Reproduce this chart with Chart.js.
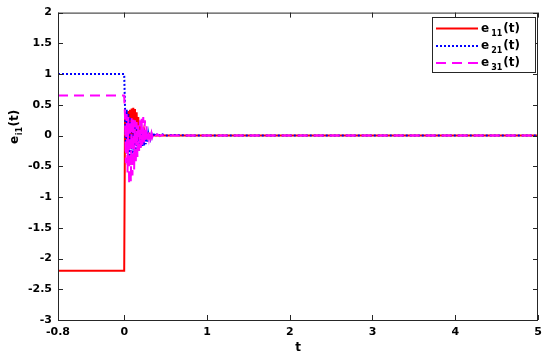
<!DOCTYPE html>
<html>
<head>
<meta charset="utf-8">
<script src="https://cdn.jsdelivr.net/npm/chart.js@4"></script>
<style>
  html, body { margin: 0; padding: 0; background: #fff; }
  #wrap { width: 550px; height: 358px; }
</style>
</head>
<body>
<div id="wrap"><canvas id="err-chart" width="550" height="358"></canvas></div>
<script>
// time samples (shared by all three error signals)
const tSamples = [
  -0.8, 0,
  0.01, 0.02, 0.03, 0.04, 0.05, 0.06, 0.07, 0.08, 0.09, 0.10,
  0.11, 0.12, 0.13, 0.14, 0.15, 0.16, 0.17, 0.18, 0.19, 0.20,
  0.21, 0.22, 0.23, 0.24, 0.25, 0.26, 0.27, 0.28, 0.29, 0.30,
  0.31, 0.32, 0.33, 0.34, 0.35,
  0.37, 0.40, 0.43, 0.46, 0.50, 0.60, 0.80, 1.0, 5
];

const e11 = [
  -2.2, -2.2,
  0.35, -0.15, 0.38, -0.2, 0.4, -0.22, 0.42, -0.18, 0.44, -0.15,
  0.45, -0.12, 0.43, -0.1, 0.38, -0.08, 0.3, -0.06, 0.18, -0.05,
  0.1, -0.04, 0.06, -0.03, 0.04, -0.02, 0.03, -0.02, 0.02, -0.01,
  0.01, -0.01, 0.01, 0, 0.01,
  0, 0.005, 0, 0, 0, 0, 0, 0, 0
];

const e21 = [
  1, 1,
  0.45, -0.15, 0.42, -0.3, 0.35, -0.35, 0.3, -0.32, 0.26, -0.3,
  0.22, -0.27, 0.18, -0.24, 0.14, -0.22, 0.12, -0.2, 0.1, -0.18,
  0.08, -0.17, 0.06, -0.16, 0.05, -0.14, 0.04, -0.1, 0.03, -0.06,
  0.03, -0.04, 0.03, -0.02, 0.04,
  -0.01, 0.03, 0, 0.02, 0, 0.01, 0, 0, 0
];

const e31 = [
  0.65, 0.65,
  0.3, -0.45, 0.35, -0.6, 0.3, -0.8, 0.25, -0.75, 0.3, -0.65,
  0.28, -0.55, 0.25, -0.45, 0.22, -0.35, 0.2, -0.25, 0.25, -0.2,
  0.28, -0.15, 0.3, -0.12, 0.25, -0.08, 0.15, -0.06, 0.08, -0.04,
  0.05, -0.03, 0.04, -0.02, 0.03,
  -0.02, 0.02, -0.01, 0.01, 0, 0, 0, 0, 0
];

const xTicks = [-0.8, 0, 1, 2, 3, 4, 5];
const yMin = -3, yMax = 2, yStep = 0.5;

const axisColor = "#262626";
const tickFont = { family: "DejaVu Sans", weight: "bold", size: 11 };

const toPoints = (ys) => tSamples.map((t, i) => ({ x: t, y: ys[i] }));

const seriesInfo = [
  { sub: "11", color: "rgb(255, 0, 0)", dash: [] },
  { sub: "21", color: "rgb(0, 0, 255)", dash: [2, 2] },
  { sub: "31", color: "rgb(255, 0, 255)", dash: [10, 6] },
];

// frame, inner ticks, axis titles with subscripts, legend box
const framePlugin = {
  id: "frame",
  afterDraw(chart) {
    const { ctx, chartArea: a, scales } = chart;
    ctx.save();
    ctx.strokeStyle = axisColor;
    ctx.lineWidth = 1;
    ctx.strokeRect(a.left + 0.5, a.top + 0.5, a.right - a.left - 1, a.bottom - a.top);

    const tl = 5;
    ctx.beginPath();
    scales.x.ticks.forEach((tk) => {
      const px = Math.round(scales.x.getPixelForValue(tk.value)) + 0.5;
      ctx.moveTo(px, a.bottom); ctx.lineTo(px, a.bottom - tl);
      ctx.moveTo(px, a.top); ctx.lineTo(px, a.top + tl);
    });
    scales.y.ticks.forEach((tk) => {
      const py = Math.round(scales.y.getPixelForValue(tk.value)) + 0.5;
      ctx.moveTo(a.left, py); ctx.lineTo(a.left + tl, py);
      ctx.moveTo(a.right, py); ctx.lineTo(a.right - tl, py);
    });
    ctx.stroke();

    const big = 'bold 12px "DejaVu Sans"';
    const small = 'bold 8px "DejaVu Sans"';
    ctx.fillStyle = "#000";

    // x title
    ctx.font = 'bold 12px "DejaVu Sans"';
    ctx.textAlign = "center";
    ctx.textBaseline = "middle";
    ctx.fillText("t", (a.left + a.right) / 2, 348);

    // y title e_{i1}(t), rotated
    ctx.textAlign = "left";
    ctx.textBaseline = "alphabetic";
    ctx.save();
    ctx.translate(18, 144);
    ctx.rotate(-Math.PI / 2);
    ctx.font = big;
    ctx.fillText("e", 0, 0);
    let w = ctx.measureText("e").width;
    ctx.font = small;
    ctx.fillText("i1", w + 0.5, 4);
    w += ctx.measureText("i1").width + 1;
    ctx.font = big;
    ctx.fillText("(t)", w, 0);
    ctx.restore();

    // legend
    const lx = 432.5, ly = 17.5, lw = 103, lh = 55;
    ctx.fillStyle = "#fff";
    ctx.fillRect(lx, ly, lw, lh);
    ctx.strokeStyle = axisColor;
    ctx.strokeRect(lx, ly, lw, lh);
    const rows = [28.5, 46, 63];
    seriesInfo.forEach((s, i) => {
      const y = rows[i];
      ctx.beginPath();
      ctx.strokeStyle = s.color;
      ctx.lineWidth = 2;
      ctx.setLineDash(s.dash);
      ctx.moveTo(436, y); ctx.lineTo(478, y);
      ctx.stroke();
      ctx.setLineDash([]);
      ctx.fillStyle = "#000";
      ctx.font = big;
      ctx.fillText("e", 481, y + 3);
      let x = 481 + ctx.measureText("e").width + 2;
      ctx.font = small;
      ctx.fillText(s.sub, x, y + 7);
      x += ctx.measureText(s.sub).width + 1;
      ctx.font = big;
      ctx.fillText("(t)", x, y + 3);
    });
    ctx.restore();
  },
};

const datasets = [e11, e21, e31].map((ys, i) => ({
  label: "e" + seriesInfo[i].sub + "(t)",
  data: toPoints(ys),
  borderColor: seriesInfo[i].color,
  backgroundColor: seriesInfo[i].color,
  borderDash: seriesInfo[i].dash,
  borderWidth: 2,
  pointRadius: 0,
  tension: 0,
  order: 3 - i,
}));

new Chart(document.getElementById("err-chart"), {
  type: "line",
  data: { datasets },
  options: {
    responsive: false,
    animation: false,
    layout: { padding: { top: 11, right: 12, left: 0, bottom: 0 } },
    plugins: { legend: { display: false }, tooltip: { enabled: false } },
    scales: {
      x: {
        type: "linear",
        min: -0.8,
        max: 5,
        afterBuildTicks: (axis) => {
          axis.ticks = xTicks.map((v) => ({ value: v }));
        },
        afterFit: (axis) => { axis.height = 38; },
        grid: { display: false, drawTicks: false },
        border: { display: false },
        ticks: {
          font: tickFont, color: "#000", padding: 6, maxRotation: 0, autoSkip: false,
          callback: (v) => String(v),
        },
      },
      y: {
        min: yMin,
        max: yMax,
        afterFit: (axis) => { axis.width = 58; },
        grid: { display: false, drawTicks: false },
        border: { display: false },
        ticks: {
          stepSize: yStep, font: tickFont, color: "#000", padding: 6,
          callback: (v) => String(v),
        },
      },
    },
  },
  plugins: [framePlugin],
});
</script>
</body>
</html>
